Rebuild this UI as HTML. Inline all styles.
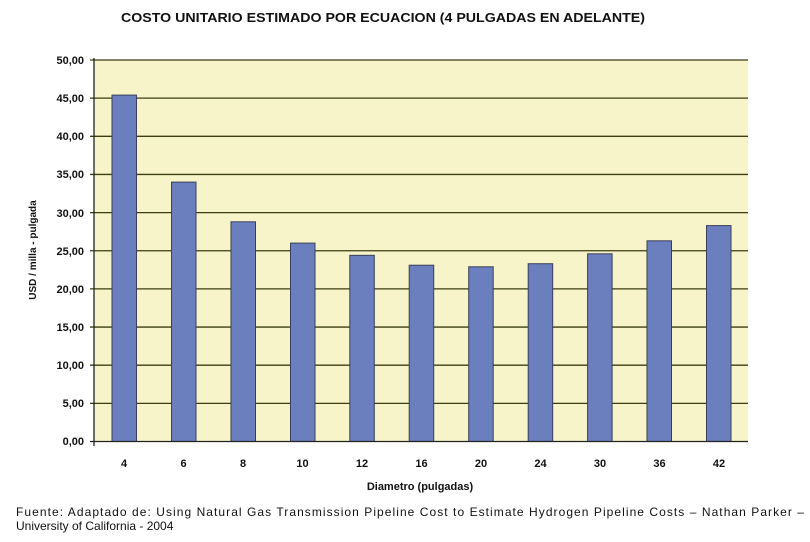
<!DOCTYPE html>
<html><head><meta charset="utf-8"><style>body{margin:0;background:#fff;width:810px;height:537px;overflow:hidden}</style></head><body>
<svg width="810" height="537" xmlns="http://www.w3.org/2000/svg" font-family="Liberation Sans, Arial, sans-serif">
<text x="121" y="22" textLength="524" lengthAdjust="spacingAndGlyphs" font-size="13" font-weight="bold" fill="#111">COSTO UNITARIO ESTIMADO POR ECUACION (4 PULGADAS EN ADELANTE)</text>
<rect x="94" y="60" width="654" height="381.5" fill="#f6f4c8"/>
<g stroke="#3c3c14" stroke-width="1.3">
<line x1="90" x2="748" y1="60" y2="60"/>
<line x1="90" x2="748" y1="98.15" y2="98.15"/>
<line x1="90" x2="748" y1="136.3" y2="136.3"/>
<line x1="90" x2="748" y1="174.45" y2="174.45"/>
<line x1="90" x2="748" y1="212.6" y2="212.6"/>
<line x1="90" x2="748" y1="250.75" y2="250.75"/>
<line x1="90" x2="748" y1="288.9" y2="288.9"/>
<line x1="90" x2="748" y1="327.05" y2="327.05"/>
<line x1="90" x2="748" y1="365.2" y2="365.2"/>
<line x1="90" x2="748" y1="403.35" y2="403.35"/>
</g>
<g fill="#6b7fbe" stroke="#3a3f5a" stroke-width="1">
<rect x="112" y="95.1" width="24.5" height="346.4"/>
<rect x="171.5" y="182.1" width="24.5" height="259.4"/>
<rect x="231" y="221.8" width="24.5" height="219.7"/>
<rect x="290.5" y="243.1" width="24.5" height="198.4"/>
<rect x="349.8" y="255.3" width="24.5" height="186.2"/>
<rect x="409.2" y="265.2" width="24.5" height="176.3"/>
<rect x="468.7" y="266.8" width="24.5" height="174.7"/>
<rect x="528.2" y="263.7" width="24.5" height="177.8"/>
<rect x="587.6" y="253.8" width="24.5" height="187.7"/>
<rect x="647" y="240.8" width="24.5" height="200.7"/>
<rect x="706.5" y="225.6" width="24.5" height="215.9"/>
</g>
<g stroke="#222" stroke-width="1.3">
<line x1="94" x2="94" y1="58" y2="446"/>
<line x1="90" x2="748" y1="441.5" y2="441.5"/>
</g>
<g font-size="11" font-weight="bold" fill="#111" text-anchor="end">
<text x="84" y="64">50,00</text><text x="84" y="102">45,00</text><text x="84" y="140">40,00</text><text x="84" y="178">35,00</text><text x="84" y="217">30,00</text><text x="84" y="255">25,00</text><text x="84" y="293">20,00</text><text x="84" y="331">15,00</text><text x="84" y="369">10,00</text><text x="84" y="407">5,00</text><text x="84" y="445">0,00</text>
</g>
<g font-size="11" font-weight="bold" fill="#111" text-anchor="middle">
<text x="124" y="467">4</text><text x="183.5" y="467">6</text><text x="243" y="467">8</text><text x="302.5" y="467">10</text><text x="362" y="467">12</text><text x="421.5" y="467">16</text><text x="481" y="467">20</text><text x="540.5" y="467">24</text><text x="600" y="467">30</text><text x="659.5" y="467">36</text><text x="719" y="467">42</text>
<text x="420" y="490" font-size="11">Diametro (pulgadas)</text>
<text transform="translate(36,250) rotate(-90)" font-size="10">USD / milla - pulgada</text>
</g>
<text x="16" y="516" font-size="12" fill="#111" textLength="788" lengthAdjust="spacing">Fuente: Adaptado de:  Using Natural Gas Transmission Pipeline Cost to Estimate Hydrogen Pipeline Costs – Nathan Parker –</text>
<text x="16" y="530" font-size="12" fill="#111">University of California - 2004</text>
</svg>
</body></html>
